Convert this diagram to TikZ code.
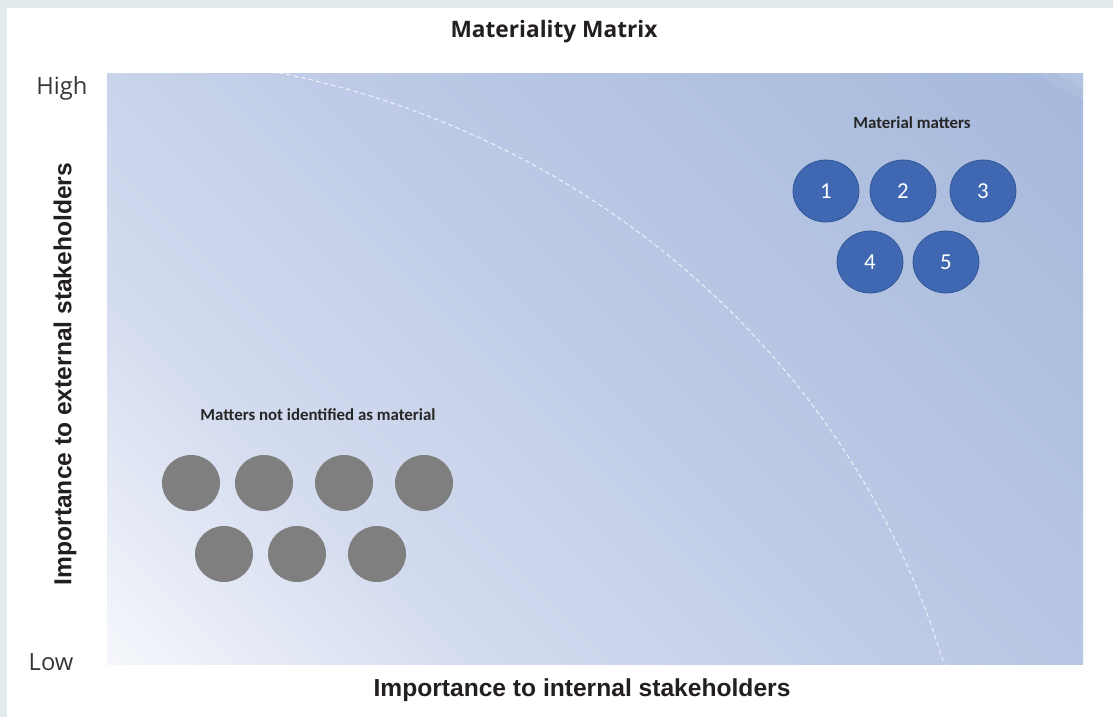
\documentclass[tikz,border=0pt]{standalone}
\usepackage{fontspec}
\setmainfont{Liberation Sans}
\newfontfamily\headfont{Open Sans}
\newfontfamily\bubblefont{Carlito}
\usepackage{tikz}
\usetikzlibrary{shapes.geometric}

\definecolor{framegrey}{HTML}{E3EBEF}
\definecolor{fieldtop}{HTML}{A6B8DC}
\definecolor{fieldupper}{HTML}{B1C1E0}
\definecolor{fieldmid}{HTML}{C0CCE7}
\definecolor{fieldlower}{HTML}{D4DCEF}
\definecolor{fieldlow}{HTML}{F4F6FB}
\definecolor{matterblue}{HTML}{4068B2}
\definecolor{matteredge}{HTML}{2F5597}
\definecolor{mattergrey}{HTML}{7F7F7F}
\definecolor{labeltext}{HTML}{231F20}

% diagonal fill of the matrix field, light in the low/low corner
\pgfdeclareverticalshading{fieldshade}{100bp}{color(0bp)=(fieldlow); color(15bp)=(fieldlow); color(31bp)=(fieldlower); color(50bp)=(fieldmid); color(68bp)=(fieldupper); color(85bp)=(fieldtop); color(100bp)=(fieldtop)}

\tikzset{
	material/.style = {ellipse, fill = matterblue, draw = matteredge, line width = 0.15mm, minimum width = 1.32cm, minimum height = 1.24cm, inner sep = 0pt, text = white, font = \bubblefont\fontsize{13}{15}\selectfont},
	notmaterial/.style = {ellipse, fill = mattergrey, minimum width = 1.16cm, minimum height = 1.12cm, inner sep = 0pt},
	grouplabel/.style = {text = black!85, font = \bubblefont\bfseries\fontsize{9.6}{11}\selectfont},
	axislabel/.style = {text = labeltext, font = \bfseries\fontsize{14}{16}\selectfont},
	endlabel/.style = {text = labeltext!90, font = \headfont\fontsize{13.5}{15}\selectfont}
}

\begin{document}
\begin{tikzpicture}[x = 0.02cm, y = -0.02cm]

		\useasboundingbox (0,0) rectangle (1113,717);
		\fill [white] (0,0) rectangle (1113,717);
		\fill [framegrey] (0,0) rectangle (1113,8);
		\fill [framegrey] (0,0) rectangle (7,717);

		%%%%%%%%%%%%%%%%%%%%%%%%%%%%%%%%%%%%%%%%%%%%%%%%%%%%%%%%%%%%%%%%%%%%%

		\shade [shading = fieldshade, shading angle = -45] (107,73) rectangle (1083,664);
		\fill [white, opacity = 0.08] (1036,73) -- (1083,73) -- (1083,101) -- cycle;
		\fill [white, opacity = 0.1] (1056,73) -- (1083,73) -- (1083,89) -- cycle;

		% quarter ellipse splitting the two groups
		\draw [white, opacity = 0.7, line width = 0.22mm, dash pattern = on 2.6pt off 1.8pt] plot [domain = 79.8:14.2, samples = 80, smooth] ({100 + 879*cos(\x)}, {900 - 845*sin(\x)});

		%%%%%%%%%%%%%%%%%%%%%%%%%%%%%%%%%%%%%%%%%%%%%%%%%%%%%%%%%%%%%%%%%%%%%

	    \node (title) at (554, 32) {\headfont\bfseries\fontsize{12.9}{15}\selectfont\color{labeltext}Materiality Matrix};

	    \node [endlabel] (high) at (62, 88) {High};
	    \node [endlabel] (low) at (51, 662) {Low};

	    \node [axislabel, rotate = 90] (external) at (65, 374) {Importance to external stakeholders};
	    \node [axislabel] (internal) at (582, 690) {Importance to internal stakeholders};

		%%%%%%%%%%%%%%%%%%%%%%%%%%%%%%%%%%%%%%%%%%%%%%%%%%%%%%%%%%%%%%%%%%%%%

	    \node [grouplabel] (materialtitle) at (912, 123) {Material matters};

	    \node [material] (m1) at (826, 191) {1};
	    \node [material] (m2) at (903, 191) {2};
	    \node [material] (m3) at (983, 191) {3};
	    \node [material] (m4) at (870, 262) {4};
	    \node [material] (m5) at (946, 262) {5};

		%%%%%%%%%%%%%%%%%%%%%%%%%%%%%%%%%%%%%%%%%%%%%%%%%%%%%%%%%%%%%%%%%%%%%

	    \node [grouplabel] (othertitle) at (318, 415) {Matters not identified as material};

	    \node [notmaterial] (n1) at (191, 483) {};
	    \node [notmaterial] (n2) at (264, 483) {};
	    \node [notmaterial] (n3) at (344, 483) {};
	    \node [notmaterial] (n4) at (424, 483) {};
	    \node [notmaterial] (n5) at (224, 554) {};
	    \node [notmaterial] (n6) at (297, 554) {};
	    \node [notmaterial] (n7) at (377, 554) {};

\end{tikzpicture}
\end{document}
